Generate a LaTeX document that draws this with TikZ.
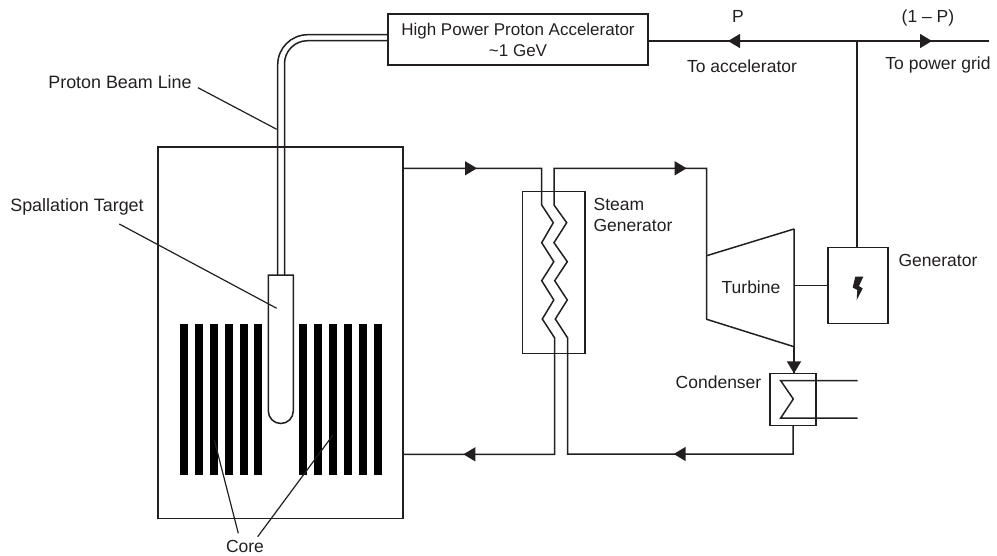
\documentclass[tikz,border=0pt]{standalone}
\usepackage{fontspec}
\setmainfont{Liberation Sans}
\usepackage{xcolor}
\definecolor{ADSInk}{RGB}{35,31,32}
\usetikzlibrary{arrows.meta, decorations.markings}
\tikzset{
  box/.style={rectangle, draw=ADSInk, line width=1.5pt, inner sep=0pt, outer sep=0pt, align=center},
  tag/.style={inner sep=0pt, text=ADSInk, align=center, font=\fontsize{17.5}{21}\selectfont},
  widetag/.style={tag, font=\fontsize{17.9}{21}\selectfont},
  pipe/.style={draw=ADSInk, line width=1.5pt, line join=miter},
  leader/.style={draw=ADSInk, line width=1.2pt},
  midtip/.style={postaction={decorate}, decoration={markings,
    mark=at position #1 with {\arrow{Triangle[length=12pt, width=14pt]}}}},
  twotip/.style 2 args={postaction={decorate}, decoration={markings,
    mark=at position #1 with {\arrow{Triangle[length=12pt, width=14pt]}},
    mark=at position #2 with {\arrow{Triangle[length=12pt, width=14pt]}}}}
}
\begin{document}
\begin{tikzpicture}[x=1pt, y=-1pt]
  \useasboundingbox (0,0) rectangle (997,555);
  % boxes
  \node[box, minimum width=260pt, minimum height=51pt, font=\fontsize{17}{21}\selectfont, text=ADSInk] (accel) at (518,39.5)
    {High Power Proton Accelerator\\\textasciitilde1 GeV};
  \node[box, minimum width=245pt, minimum height=371.7pt] (vessel) at (280.7,332.8) {};
  \node[box, minimum width=62.7pt, minimum height=161.6pt] (steamgen) at (553.7,272.5) {};
  \node[box, minimum width=60pt, minimum height=76.4pt] (generator) at (858,285.5) {};
  \node[box, minimum width=45.7pt, minimum height=51.6pt] (condenser) at (793,399.5) {};
  \node[tag] (turbine) at (751,287) {Turbine};
  % labels
  \node[tag] (ptag) at (738,16) {P};
  \node[tag] (onep) at (928,18) {(1 -- P)};
  \node[tag] (toacc) at (742,66) {To accelerator};
  \node[tag] (togrid) at (938,65) {To power grid};
  \node[widetag] (beamtag) at (120,81.7) {Proton Beam Line};
  \node[widetag] (targettag) at (77,206.7) {Spallation Target};
  \node[tag] (coretag) at (245,546.5) {Core};
  \node[tag, align=left] (steamtag) at (633,215) {Steam\\Generator};
  \node[tag] (gentag) at (938,260) {Generator};
  \node[tag] (condtag) at (718.5,382.7) {Condenser};
  % named points
  \coordinate (junction) at (857,41);
  \coordinate (gridend) at (989,41);
  \coordinate (hotport) at (403,168.3);
  \coordinate (coldport) at (403,454.3);
  \coordinate (turbtl) at (706.7,255.7);
  \coordinate (turbtr) at (794,229);
  \coordinate (turbbr) at (794,346.7);
  \coordinate (turbbl) at (706.7,319.3);
  \coordinate (shaft) at (794,285.5);
  \coordinate (coilA) at (857.5,380.7);
  \coordinate (coilB) at (857.5,418);
  \coordinate (beamA) at (198,87.7);
  \coordinate (beamB) at (276.7,129.3);
  \coordinate (targetA) at (119.3,224);
  \coordinate (targetB) at (276.7,308.3);
  \coordinate (coreA) at (214.3,440);
  \coordinate (coreB) at (238.3,533.3);
  \coordinate (coreC) at (333,435);
  \coordinate (coreD) at (257.7,536.7);
  % core rods
  \foreach \rodx in {180,195,210,225,240,254,299,314,329,344,359,374}
    \fill[black] (\rodx,324) rectangle ++(8,151);
  % target and beam line
  \draw[pipe] (268.3,275) -- (293.3,275) -- (293.3,411) arc[start angle=0, end angle=180, radius=12.5] -- cycle;
  \coordinate (beamout) at (accel.west |- 0,34.7);
  \coordinate (beamin) at (accel.west |- 0,40.7);
  \draw[pipe, rounded corners=30pt] (beamout) -- (277.7,34.7) -- (277.7,275);
  \draw[pipe, rounded corners=23pt] (beamin) -- (284.5,40.7) -- (284.5,275);
  % power lines
  \draw[pipe, midtip=129pt] (junction) -- (accel.east |- junction);
  \draw[pipe, midtip=75pt] (junction) -- (gridend);
  \draw[pipe] (junction) -- (generator.north -| junction);
  \draw[pipe] (shaft) -- (generator.west);
  % primary loop through the steam generator
  \draw[pipe, twotip={74pt}{540pt}] (hotport) -- (541.7,168.3) -- (541.7,205) -- (553.3,222.7) -- (541.7,242.7)
    -- (553.8,261.7) -- (541.7,280.7) -- (553.8,300) -- (542.3,319) -- (554.7,338)
    -- (554.7,454.3) -- (coldport);
  % secondary loop
  \draw[pipe, twotip={148pt}{699pt}] (condenser.south) |- (567.7,454) -- (567.7,338) -- (555.3,319) -- (567.3,300)
    -- (554.7,280.7) -- (567.3,261.7) -- (554,242.7) -- (566.7,222.7) -- (554,205)
    -- (554,168.3) -- (706.7,168.3) -- (turbtl);
  % turbine
  \draw[pipe, line join=bevel] (turbtl) -- (turbtr) -- (turbbr) -- (turbbl) -- cycle;
  \draw[pipe, midtip=26.7pt] (turbbr) -- (condenser.north -| turbbr);
  % condenser coil
  \draw[pipe] (coilA) -- (780.7,380.7) -- (793.3,399) -- (780.7,418) -- (coilB);
  % lightning bolt
  \fill[ADSInk] (855.3,276.7) -- (863.3,276.7) -- (859,286) -- (862.7,288.5) -- (856.7,300)
    -- (857.3,290) -- (852.7,287.5) -- cycle;
  % leaders
  \draw[leader] (beamA) -- (beamB);
  \draw[leader] (targetA) -- (targetB);
  \draw[leader] (coreA) -- (coreB);
  \draw[leader] (coreC) -- (coreD);
\end{tikzpicture}
\end{document}
